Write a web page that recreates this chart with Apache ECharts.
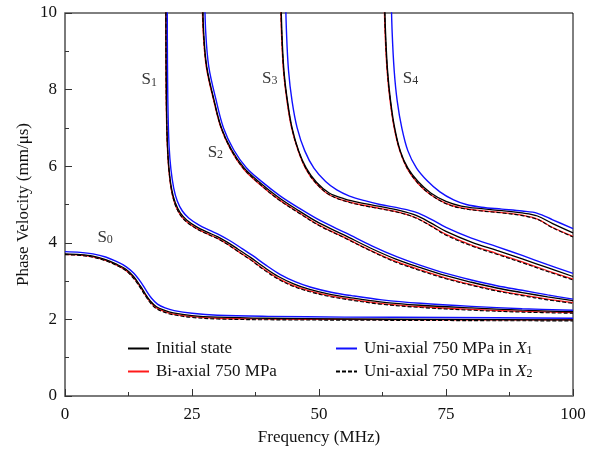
<!DOCTYPE html>
<html>
<head>
<meta charset="utf-8">
<script src="https://cdn.jsdelivr.net/npm/echarts@6/dist/echarts.min.js"></script>
<style>
  html, body { margin: 0; padding: 0; background: #fff; }
  #chart { width: 595px; height: 451px; }
</style>
</head>
<body>
<div id="chart"></div>
<script>
// Dispersion curves of symmetric Lamb modes: [frequency (MHz), phase velocity (mm/us)]
const s0Initial = [[0,3.71],[3,3.69],[5.5,3.65],[8,3.56],[10,3.45],[12,3.31],[13.5,3.12],[14.8,2.88],[15.8,2.67],[16.8,2.48],[18,2.33],[19.5,2.24],[21.3,2.17],[25,2.10],[30,2.06],[40,2.03],[55,2.01],[75,2.00],[100,1.99]];
const s0BiAxial = [[0,3.70],[3,3.68],[5.5,3.63],[8,3.54],[10,3.43],[12,3.28],[13.5,3.09],[14.8,2.85],[15.8,2.64],[16.8,2.45],[18,2.30],[19.5,2.21],[21.3,2.14],[25,2.07],[30,2.03],[40,2.01],[55,2.00],[75,1.99],[100,1.99]];
const s0UniX1 = [[0,3.77],[3,3.75],[5.5,3.71],[8,3.63],[10,3.52],[12,3.38],[13.5,3.21],[15,2.96],[16,2.75],[17,2.56],[18.2,2.40],[19.7,2.30],[21.5,2.23],[25,2.16],[30,2.11],[40,2.08],[55,2.06],[75,2.05],[100,2.03]];
const s0UniX2 = [[0,3.69],[3,3.67],[5.5,3.62],[8,3.53],[10,3.42],[12,3.27],[13.5,3.07],[14.8,2.83],[15.8,2.62],[16.8,2.43],[18,2.28],[19.5,2.19],[21.3,2.12],[25,2.05],[30,2.01],[40,1.99],[55,1.98],[75,1.97],[100,1.96]];

const s1Initial = [[19.88,10.5],[19.9,9.2],[19.94,8.2],[20.02,7.3],[20.2,6.5],[20.5,5.9],[21,5.4],[21.7,5.05],[22.7,4.78],[24,4.59],[26,4.41],[28,4.28],[30,4.16],[32,4.01],[34,3.84],[36.5,3.62],[39,3.38],[42,3.12],[45,2.93],[48,2.79],[52,2.66],[56,2.57],[62,2.46],[70,2.37],[80,2.30],[90,2.24],[100,2.20]];
const s1BiAxial = [[19.83,10.5],[19.85,9.2],[19.89,8.2],[19.97,7.3],[20.15,6.5],[20.45,5.88],[20.95,5.37],[21.65,5.01],[22.65,4.74],[23.95,4.55],[25.95,4.37],[27.95,4.24],[29.95,4.12],[31.95,3.97],[33.95,3.79],[36.45,3.57],[38.95,3.33],[41.95,3.07],[44.95,2.88],[47.95,2.75],[51.95,2.62],[55.95,2.53],[62,2.42],[70,2.33],[80,2.26],[90,2.21],[100,2.18]];
const s1UniX1 = [[20.12,10.5],[20.15,9.2],[20.2,8.2],[20.3,7.3],[20.5,6.5],[20.85,5.92],[21.4,5.43],[22.1,5.09],[23.1,4.83],[24.4,4.64],[26.4,4.46],[28.4,4.33],[30.4,4.21],[32.4,4.06],[34.4,3.89],[36.9,3.67],[39.4,3.43],[42.4,3.17],[45.4,2.98],[48.4,2.84],[52.4,2.71],[56.4,2.62],[62.4,2.51],[70,2.42],[80,2.34],[90,2.28],[100,2.24]];
const s1UniX2 = [[19.85,10.5],[19.87,9.2],[19.91,8.2],[19.99,7.3],[20.17,6.5],[20.47,5.88],[20.97,5.37],[21.67,5.0],[22.67,4.73],[23.97,4.54],[25.97,4.36],[27.97,4.23],[29.97,4.11],[31.97,3.96],[33.97,3.78],[36.47,3.56],[38.97,3.31],[41.97,3.05],[44.97,2.86],[47.97,2.73],[51.97,2.6],[55.97,2.51],[62,2.4],[70,2.31],[80,2.24],[90,2.19],[100,2.16]];

const s2Initial = [[27.1,10.5],[27.3,9.5],[27.9,8.6],[29.3,7.75],[30.8,7.0],[32.8,6.43],[35.3,5.95],[38.4,5.57],[42,5.19],[46,4.84],[50,4.52],[55,4.2],[60,3.87],[65,3.58],[70,3.35],[75,3.14],[80,2.97],[85,2.82],[90,2.70],[95,2.59],[100,2.49]];
const s2BiAxial = [[27.0,10.5],[27.2,9.5],[27.8,8.6],[29.2,7.75],[30.7,7.0],[32.7,6.41],[35.2,5.92],[38.3,5.53],[42,5.14],[46,4.79],[50,4.46],[55,4.14],[60,3.81],[65,3.52],[70,3.29],[75,3.08],[80,2.91],[85,2.76],[90,2.64],[95,2.53],[100,2.44]];
const s2UniX1 = [[27.5,10.5],[27.7,9.5],[28.3,8.6],[29.7,7.75],[31.2,7.0],[33.2,6.43],[35.7,5.96],[38.8,5.59],[42.4,5.22],[46.4,4.88],[50.4,4.57],[55.4,4.25],[60.4,3.92],[65.4,3.63],[70,3.41],[75,3.2],[80,3.03],[85,2.88],[90,2.76],[95,2.64],[100,2.53]];
const s2UniX2 = [[27.05,10.5],[27.25,9.5],[27.85,8.6],[29.25,7.75],[30.75,7.0],[32.75,6.41],[35.25,5.92],[38.35,5.53],[42,5.13],[46,4.78],[50,4.45],[55,4.13],[60,3.8],[65,3.5],[70,3.27],[75,3.06],[80,2.89],[85,2.74],[90,2.62],[95,2.51],[100,2.42]];

const s3Initial = [[42.5,10.5],[42.7,9.5],[43.1,8.5],[43.8,7.7],[44.7,7.0],[46,6.4],[47.5,5.95],[49.5,5.58],[52,5.3],[55,5.15],[58,5.05],[62,4.95],[66,4.84],[69,4.72],[72,4.52],[75,4.3],[80,4.02],[85,3.8],[90,3.58],[95,3.35],[100,3.12]];
const s3BiAxial = [[42.4,10.5],[42.6,9.5],[43.0,8.5],[43.7,7.7],[44.6,7.0],[45.9,6.4],[47.4,5.93],[49.4,5.55],[51.9,5.26],[55,5.1],[58,5.0],[62,4.9],[66,4.79],[69,4.66],[72,4.45],[75,4.22],[80,3.94],[85,3.72],[90,3.5],[95,3.27],[100,3.05]];
const s3UniX1 = [[43.4,10.5],[43.6,9.5],[44.0,8.5],[44.7,7.7],[45.7,7.0],[47.2,6.4],[49,5.95],[51.3,5.6],[53.5,5.38],[56,5.22],[59,5.1],[62,5.0],[66,4.9],[69,4.8],[72,4.62],[75,4.4],[80,4.12],[85,3.9],[90,3.67],[95,3.43],[100,3.2]];
const s3UniX2 = [[42.45,10.5],[42.65,9.5],[43.05,8.5],[43.75,7.7],[44.65,7.0],[45.95,6.4],[47.45,5.93],[49.45,5.55],[51.95,5.26],[55,5.09],[58,4.99],[62,4.89],[66,4.78],[69,4.65],[72,4.44],[75,4.2],[80,3.92],[85,3.7],[90,3.48],[95,3.25],[100,3.03]];

const s4Initial = [[62.9,10.5],[63.1,9.5],[63.5,8.5],[64.1,7.7],[64.9,7.0],[66,6.4],[67.5,5.95],[69.5,5.6],[72,5.3],[75,5.08],[78,4.96],[82,4.89],[86,4.84],[90,4.78],[93,4.7],[96,4.5],[100,4.26]];
const s4BiAxial = [[62.8,10.5],[63.0,9.5],[63.4,8.5],[64.0,7.7],[64.8,7.0],[65.9,6.4],[67.4,5.93],[69.4,5.56],[71.9,5.26],[75,5.03],[78,4.91],[82,4.84],[86,4.79],[90,4.72],[93,4.62],[96,4.4],[100,4.17]];
const s4UniX1 = [[64.2,10.5],[64.4,9.5],[64.8,8.5],[65.4,7.7],[66.3,7.0],[67.5,6.4],[69.2,5.95],[71.3,5.62],[73.8,5.33],[76.5,5.12],[79,5.0],[82,4.93],[86,4.88],[90,4.83],[93,4.77],[96,4.6],[100,4.37]];
const s4UniX2 = [[62.85,10.5],[63.05,9.5],[63.45,8.5],[64.05,7.7],[64.85,7.0],[65.95,6.4],[67.45,5.93],[69.45,5.56],[71.95,5.26],[75,5.02],[78,4.9],[82,4.83],[86,4.78],[90,4.71],[93,4.61],[96,4.39],[100,4.15]];

// Mode names and where their labels sit (data coordinates)
const modeNames = ['0', '1', '2', '3', '4'];
const modeLabelAt = [[7.9, 4.15], [16.6, 8.25], [29.6, 6.35], [40.3, 8.3], [68.0, 8.3]];

const stateNames = ['Initial state', 'Bi-axial 750 MPa', 'Uni-axial 750 MPa in X1', 'Uni-axial 750 MPa in X2'];

const curves = {
  'Initial state': [s0Initial, s1Initial, s2Initial, s3Initial, s4Initial],
  'Bi-axial 750 MPa': [s0BiAxial, s1BiAxial, s2BiAxial, s3BiAxial, s4BiAxial],
  'Uni-axial 750 MPa in X1': [s0UniX1, s1UniX1, s2UniX1, s3UniX1, s4UniX1],
  'Uni-axial 750 MPa in X2': [s0UniX2, s1UniX2, s2UniX2, s3UniX2, s4UniX2]
};

const lineStyles = {
  'Initial state': { color: '#000000', width: 1.3, type: 'solid' },
  'Bi-axial 750 MPa': { color: '#ff1a1a', width: 1.3, type: 'solid' },
  'Uni-axial 750 MPa in X1': { color: '#1010ff', width: 1.4, type: 'solid' },
  'Uni-axial 750 MPa in X2': { color: '#000000', width: 1.1, type: [4, 2] }
};

const drawOrder = ['Bi-axial 750 MPa', 'Initial state', 'Uni-axial 750 MPa in X1', 'Uni-axial 750 MPa in X2'];

const FONT = 'Liberation Serif';

const series = [];
drawOrder.forEach(function (name) {
  curves[name].forEach(function (pts) {
    series.push({
      type: 'line',
      name: name,
      data: pts,
      smooth: 0.35,
      symbol: 'none',
      clip: true,
      color: lineStyles[name].color,
      lineStyle: lineStyles[name],
      emphasis: { disabled: true },
      silent: true,
      animation: false
    });
  });
});

series.push({
  type: 'scatter',
  name: 'modes',
  data: modeLabelAt.map(function (p, i) { return { value: p, mode: modeNames[i] }; }),
  symbolSize: 0,
  silent: true,
  animation: false,
  label: {
    show: true,
    position: 'inside',
    formatter: function (p) { return '{s|S}{n|' + p.data.mode + '}'; },
    rich: {
      s: { fontFamily: FONT, fontSize: 17, color: '#000', lineHeight: 17 },
      n: { fontFamily: FONT, fontSize: 12, color: '#000', verticalAlign: 'bottom', lineHeight: 17 }
    }
  }
});

function legendText(name) {
  const m = name.match(/^(.*in )X(\d)$/);
  if (m) return '{t|' + m[1] + '}{i|X}{n|' + m[2] + '}';
  return '{t|' + name + '}';
}
const legendRich = {
  t: { fontFamily: FONT, fontSize: 17, color: '#111', lineHeight: 17 },
  i: { fontFamily: FONT, fontSize: 17, fontStyle: 'italic', color: '#111', lineHeight: 17 },
  n: { fontFamily: FONT, fontSize: 12, color: '#111', verticalAlign: 'bottom', lineHeight: 17 }
};
function makeLegend(left, names) {
  return {
    orient: 'vertical',
    left: left,
    top: 340,
    padding: 0,
    itemGap: 6,
    itemWidth: 21,
    itemHeight: 10,
    selectedMode: false,
    data: names,
    formatter: legendText,
    itemStyle: { color: 'rgba(0,0,0,0)', borderWidth: 0, opacity: 0 },
    textStyle: { rich: legendRich, padding: [0, 0, 0, 2] }
  };
}

const chart = echarts.init(document.getElementById('chart'), null, { renderer: 'canvas' });
chart.setOption({
  backgroundColor: '#ffffff',
  animation: false,
  grid: {
    left: 65, right: 22, top: 13, bottom: 54,
    show: true, borderColor: '#000', borderWidth: 1, backgroundColor: 'transparent'
  },
  legend: [
    makeLegend(127, [stateNames[0], stateNames[1]]),
    makeLegend(335, [stateNames[2], stateNames[3]])
  ],
  xAxis: {
    type: 'value',
    min: 0, max: 100, interval: 25,
    name: 'Frequency (MHz)',
    nameLocation: 'middle',
    nameGap: 33,
    nameMoveOverlap: false,
    nameTextStyle: { fontFamily: FONT, fontSize: 17, color: '#111' },
    axisLine: { show: true, onZero: false, lineStyle: { color: '#7a7a7a', width: 2 } },
    axisTick: { show: true, inside: true, length: 7, lineStyle: { color: '#333', width: 1 } },
    minorTick: { show: true, splitNumber: 2, length: 4, lineStyle: { color: '#333', width: 1 } },
    splitLine: { show: false },
    axisLabel: { fontFamily: FONT, fontSize: 17, color: '#111', margin: 10 }
  },
  yAxis: {
    type: 'value',
    min: 0, max: 10, interval: 2,
    name: 'Phase Velocity (mm/\u03bcs)',
    nameLocation: 'middle',
    nameGap: 33,
    nameMoveOverlap: false,
    nameTextStyle: { fontFamily: FONT, fontSize: 17, color: '#111' },
    axisLine: { show: true, onZero: false, lineStyle: { color: '#7a7a7a', width: 2 } },
    axisTick: { show: true, inside: true, length: 7, lineStyle: { color: '#333', width: 1 } },
    minorTick: { show: true, splitNumber: 2, length: 4, lineStyle: { color: '#333', width: 1 } },
    splitLine: { show: false },
    axisLabel: { fontFamily: FONT, fontSize: 17, color: '#111', margin: 8 }
  },
  series: series
});
</script>
</body>
</html>
